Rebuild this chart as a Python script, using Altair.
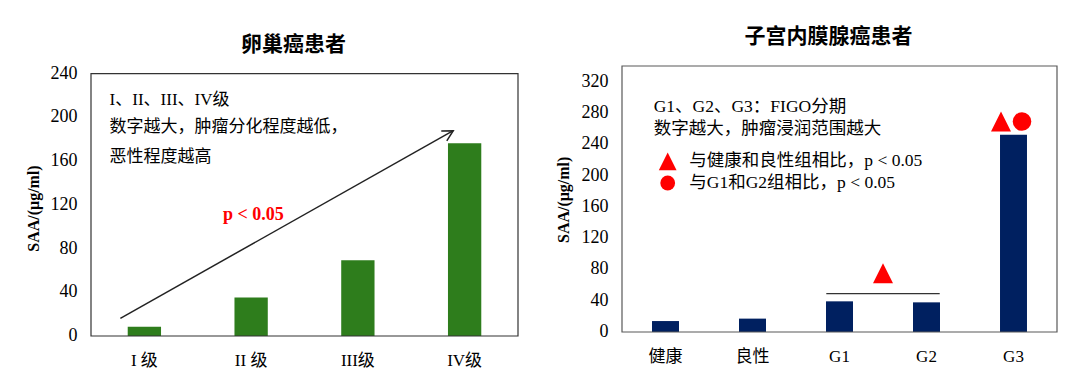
import altair as alt
import pandas as pd

# ---------------- data ----------------
y_title = "SAA/(μg/ml)"

left_title = "卵巢癌患者"
left_cats = ["I 级", "II 级", "III级", "IV级"]
left_vals = [8.5, 35.3, 69.2, 176.3]
left_ticks = [0, 40, 80, 120, 160, 200, 240]
left_notes = ["I、II、III、IV级", "数字越大，肿瘤分化程度越低，", "恶性程度越高"]
left_p = "p < 0.05"
arrow_start = ["I 级", 16.2]
arrow_end = ["IV级", 187.8]

right_title = "子宫内膜腺癌患者"
right_cats = ["健康", "良性", "G1", "G2", "G3"]
right_vals = [14.0, 17.1, 39.2, 37.9, 252.0]
right_ticks = [0, 40, 80, 120, 160, 200, 240, 280, 320]
right_notes = ["G1、G2、G3：FIGO分期", "数字越大，肿瘤浸润范围越大"]
legend_notes = ["与健康和良性组相比，p < 0.05", "与G1和G2组相比，p < 0.05"]
bracket_cats = ["G1", "G2"]
bracket_val = 49
bracket_marker_val = 75
g3_marker_val = 269

# ---------------- style ----------------
SERIF = "Liberation Serif, Noto Sans CJK SC"
CJK = "Noto Sans CJK SC"
GREEN = "#2e7d1c"
NAVY = "#002060"
RED = "#ff0000"
TRI = "M0,-1L1,1L-1,1Z"
ARROW = "M-0.47,0.88L0,0L0.47,0.88"

LW, LH = 427, 270
RW, RH = 435, 266

one = pd.DataFrame({"k": [0]})


def note(text, x, y, size=17, color="#000000", weight="normal"):
    return alt.Chart(one).mark_text(
        align="left", baseline="middle", font=SERIF, fontSize=size,
        color=color, fontWeight=weight
    ).encode(x=alt.value(x), y=alt.value(y), text=alt.value(text))


def tick_labels(ticks):
    tdf = pd.DataFrame({"tick": ticks})
    return alt.Chart(tdf).mark_text(
        align="right", baseline="middle", font=SERIF, fontSize=18, color="#000000"
    ).encode(x=alt.value(-13.5), y=alt.Y("tick:Q"), text=alt.Text("tick:Q"))


def x_axis(pad):
    return alt.Axis(title=None, labelAngle=0, domain=False, ticks=False, tickSize=0,
                    labelPadding=pad, labelFont=SERIF, labelFontSize=17, labelColor="#000",
                    labelOverlap=False)


def y_axis(tx, ty):
    return alt.Axis(labels=False, title=y_title, grid=False, domain=False, ticks=False,
                    tickSize=0, titleFont=SERIF, titleFontSize=16,
                    titleFontWeight="bold", titleColor="#000", titleX=tx, titleY=ty,
                    titleBaseline="middle", titleAngle=270)


# ---------------- left panel ----------------
ldf = pd.DataFrame({"cat": left_cats, "val": left_vals})
lx_scale = alt.Scale(domain=left_cats, paddingInner=0.688, paddingOuter=0.344)
ly_scale = alt.Scale(domain=[0, 247], nice=False, zero=False)

l_bars = alt.Chart(ldf).mark_bar(color=GREEN).encode(
    x=alt.X("cat:N", scale=lx_scale, axis=x_axis(16)),
    y=alt.Y("val:Q", scale=ly_scale, axis=y_axis(-57.4, 142)),
)
l_frame = alt.Chart(one).mark_rect(fillOpacity=0, stroke="#333333", strokeWidth=1.2).encode(
    x=alt.value(0), x2=alt.value(LW), y=alt.datum(left_ticks[0]), y2=alt.datum(left_ticks[-1])
)
l_arrow = alt.Chart(one).mark_rule(color="#222222", strokeWidth=1.5, xOffset=-24, x2Offset=-11.4).encode(
    x=alt.datum(arrow_start[0]), x2=alt.datum(arrow_end[0]),
    y=alt.datum(arrow_start[1]), y2=alt.datum(arrow_end[1]),
)
l_head = alt.Chart(one).mark_point(shape=ARROW, filled=False, stroke="#222222", strokeWidth=1.5,
                                   size=576, angle=60.6, opacity=1, xOffset=-11.4).encode(
    x=alt.datum(arrow_end[0]), y=alt.datum(arrow_end[1])
)
l_texts = [note(left_notes[0], 18.6, 33.6), note(left_notes[1], 18.6, 61), note(left_notes[2], 18.6, 91),
           note(left_p, 132, 149.3, size=18, color=RED, weight="bold")]

left = alt.layer(l_bars, l_frame, l_arrow, l_head, tick_labels(left_ticks), *l_texts).properties(
    width=LW, height=LH,
    title=alt.TitleParams(left_title, font=CJK, fontSize=21, fontWeight="bold", color="#000",
                          frame="group", dx=-11, offset=10),
)

# ---------------- right panel ----------------
rdf = pd.DataFrame({"cat": right_cats, "val": right_vals})
rx_scale = alt.Scale(domain=right_cats, paddingInner=0.69, paddingOuter=0.345)
ry_scale = alt.Scale(domain=[0, 340], nice=False, zero=False)

r_bars = alt.Chart(rdf).mark_bar(color=NAVY).encode(
    x=alt.X("cat:N", scale=rx_scale, axis=x_axis(16)),
    y=alt.Y("val:Q", scale=ry_scale, axis=y_axis(-58.3, 133.3)),
)
r_frame = alt.Chart(one).mark_rect(fillOpacity=0, stroke="#595959", strokeWidth=1.2).encode(
    x=alt.value(0), x2=alt.value(RW), y=alt.datum(0), y2=alt.datum(340)
)
r_bracket = alt.Chart(one).mark_rule(color="#333333", strokeWidth=1.2, xOffset=-13.2, x2Offset=13.2).encode(
    x=alt.datum(bracket_cats[0]), x2=alt.datum(bracket_cats[1]), y=alt.datum(bracket_val)
)
r_tri = alt.Chart(one).mark_point(shape=TRI, filled=True, color=RED, opacity=1, size=400, xOffset=43.5).encode(
    x=alt.datum(bracket_cats[0]), y=alt.datum(bracket_marker_val)
)
g3_tri = alt.Chart(one).mark_point(shape=TRI, filled=True, color=RED, opacity=1, size=400, xOffset=-12.5).encode(
    x=alt.datum(right_cats[-1]), y=alt.datum(g3_marker_val)
)
g3_circ = alt.Chart(one).mark_point(shape="circle", filled=True, color=RED, opacity=1, size=346, xOffset=8.5).encode(
    x=alt.datum(right_cats[-1]), y=alt.datum(g3_marker_val)
)
leg_tri = alt.Chart(one).mark_point(shape=TRI, filled=True, color=RED, opacity=1, size=313).encode(
    x=alt.value(45.7), y=alt.value(95.3)
)
leg_circ = alt.Chart(one).mark_point(shape="circle", filled=True, color=RED, opacity=1, size=219).encode(
    x=alt.value(45.7), y=alt.value(117)
)
r_texts = [note(right_notes[0], 31.7, 41, size=17.5), note(right_notes[1], 31.7, 63.3, size=17.5),
           note(legend_notes[0], 67.3, 95.3, size=17.5), note(legend_notes[1], 67.3, 117, size=17.5)]

right = alt.layer(r_bars, r_frame, r_bracket, r_tri, g3_tri, g3_circ, leg_tri, leg_circ,
                  tick_labels(right_ticks), *r_texts).properties(
    width=RW, height=RH,
    title=alt.TitleParams(right_title, font=CJK, fontSize=21, fontWeight="bold", color="#000",
                          frame="group", dx=-11, offset=18),
)

chart = alt.hconcat(left, right, spacing=36).properties(
    padding={"left": 17, "top": 18, "right": 5, "bottom": 5},
    background="white",
).configure_view(stroke=None).configure_axis(labelOverlap=False)

chart.save("out.html", embed_options={"renderer": "svg", "actions": False})
